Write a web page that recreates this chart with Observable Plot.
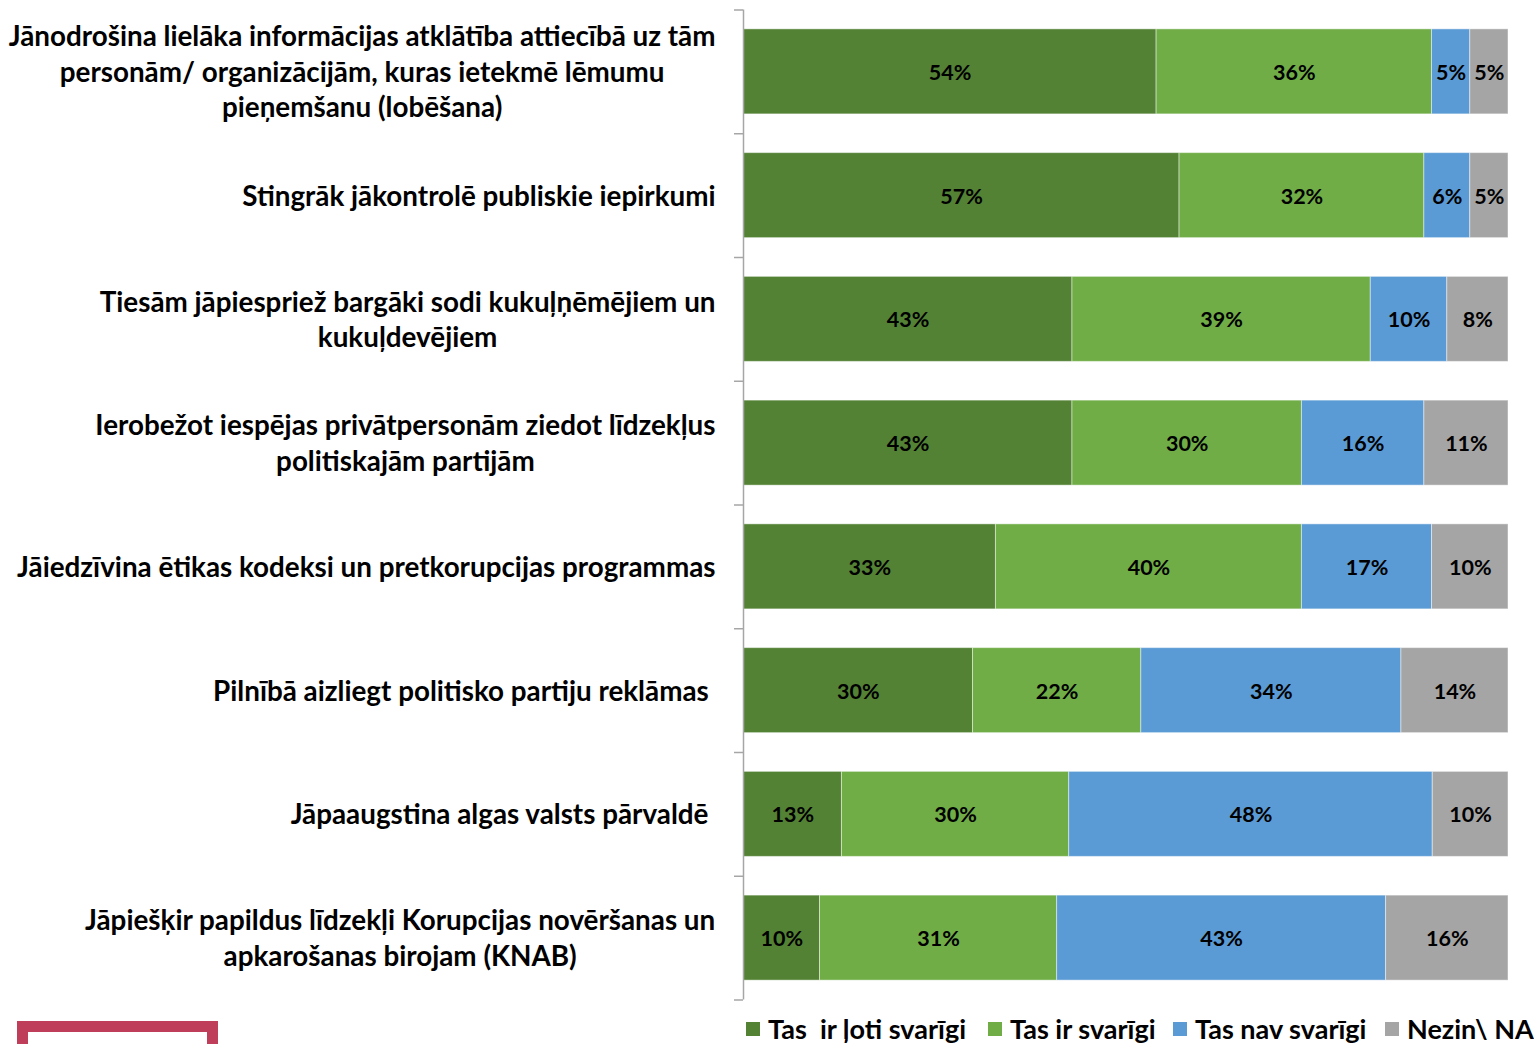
<!DOCTYPE html>
<html>
<head>
<meta charset="utf-8">
<script src="https://cdn.jsdelivr.net/npm/d3@7"></script>
<script src="https://cdn.jsdelivr.net/npm/@observablehq/plot@0.6"></script>
<style>
  html, body { margin: 0; padding: 0; background: #fff; overflow: hidden; }
  #wrap { position: relative; width: 1534px; height: 1044px; overflow: hidden; font-family: Lato, "Open Sans", sans-serif; }
  #chart svg { display: block; }
  #chart svg text { white-space: pre; }
  #bottom { position: relative; width: 1534px; height: 38px; overflow: hidden; }
  #logo { position: absolute; left: 17px; top: 15px; width: 201px; height: 60px; box-sizing: border-box; border: 11px solid #BF3F5B; background: #fff; }
  .item { position: absolute; top: 8px; display: flex; align-items: center; white-space: pre; font-weight: 700; font-size: 27px; color: #000; line-height: 30px; }
  .sw { width: 14px; height: 14px; margin-right: 8px; }
</style>
</head>
<body>
<div id="wrap">
  <div id="chart"></div>
  <div id="bottom"><div id="logo"></div></div>
</div>
<script>
// ---- Data ----
const categoryLines = [
  ["Jānodrošina lielāka informācijas atklātība attiecībā uz tām", "personām/ organizācijām, kuras ietekmē lēmumu", "pieņemšanu (lobēšana)"],
  ["Stingrāk jākontrolē publiskie iepirkumi"],
  ["Tiesām jāpiespriež bargāki sodi kukuļņēmējiem un", "kukuļdevējiem"],
  ["Ierobežot iespējas privātpersonām ziedot līdzekļus", "politiskajām partijām"],
  ["Jāiedzīvina ētikas kodeksi un pretkorupcijas programmas"],
  ["Pilnībā aizliegt politisko partiju reklāmas "],
  ["Jāpaaugstina algas valsts pārvaldē "],
  ["Jāpiešķir papildus līdzekļi Korupcijas novēršanas un", "apkarošanas birojam (KNAB)"]
];
const categories = categoryLines.map(l => l.join(" ").trim());
const seriesNames = ["Tas  ir ļoti svarīgi", "Tas ir svarīgi", "Tas nav svarīgi", "Nezin\\ NA"];
const seriesColors = ["#548235", "#70AD47", "#5B9BD5", "#A5A5A5"];
const veryImportant = [54, 57, 43, 43, 33, 30, 13, 10];
const important     = [36, 32, 39, 30, 40, 22, 30, 31];
const notImportant  = [5, 6, 10, 16, 17, 34, 48, 43];
const dontKnow      = [5, 5, 8, 11, 10, 14, 10, 16];
const seriesValues = [veryImportant, important, notImportant, dontKnow];

const rows = [];
categories.forEach((c, i) => seriesNames.forEach((s, j) => rows.push({cat: c, series: s, value: seriesValues[j][i]})));

// ---- Layout ----
const W = 1534, H = 1006, mt = 9.5, mb = 6.5, ml = 743, mr = 26;
const step = (H - mt - mb) / categories.length;
const labelFamily = "Lato, 'Open Sans', sans-serif";

const ctx = document.createElement("canvas").getContext("2d");
function measure(t, fs) { ctx.font = `bold ${fs}px ${labelFamily}`; return ctx.measureText(t).width; }
const labelFs = 26 * 707 / measure(categoryLines[0][0], 26);
const labelGap = 28;

const labelMarks = categoryLines.map((lines, i) => {
  const maxW = d3.max(lines, t => measure(t, labelFs));
  return Plot.text([categories[i]], {
    y: d => d, text: () => lines.join("\n"), frameAnchor: "left", textAnchor: "middle",
    lineAnchor: "middle", lineHeight: 35.5 / labelFs, dx: -(labelGap + maxW / 2), dy: -1.5,
    fontSize: labelFs, fontWeight: "bold", fill: "#000", fontFamily: labelFamily
  });
});

const chart = Plot.plot({
  width: W, height: H, marginTop: mt, marginBottom: mb, marginLeft: ml, marginRight: mr,
  style: {fontFamily: labelFamily, background: "#fff"},
  x: {axis: null},
  y: {domain: categories, paddingInner: 0.313, paddingOuter: 0.1565, round: false, axis: null},
  color: {domain: seriesNames, range: seriesColors},
  marks: [
    Plot.barX(rows, Plot.stackX({x: "value", y: "cat", fill: "series", order: seriesNames, offset: "normalize", stroke: "#fff", strokeOpacity: 0.45, strokeWidth: 1})),
    Plot.text(rows, Plot.stackX({x: "value", y: "cat", z: "series", order: seriesNames, offset: "normalize", text: d => d.value + "%", fontSize: 21.5, fontWeight: "bold", fill: "#000", dy: 1})),
    Plot.ruleX([0], {stroke: "#A6A6A6", strokeWidth: 1.5}),
    Plot.axisY({ticks: categories, tickSize: 9, dy: -step / 2, stroke: "#A6A6A6", strokeWidth: 1.5, fill: "none", label: null}),
    Plot.axisY({ticks: categories.slice(-1), tickSize: 9, dy: step / 2, stroke: "#A6A6A6", strokeWidth: 1.5, fill: "none", label: null}),
    ...labelMarks
  ]
});
document.getElementById("chart").appendChild(chart);

// ---- Legend ----
const legendLeft = [746, 988, 1173, 1385];
const bottom = document.getElementById("bottom");
seriesNames.forEach((s, i) => {
  const it = document.createElement("div"); it.className = "item"; it.style.left = legendLeft[i] + "px";
  const sw = document.createElement("div"); sw.className = "sw"; sw.style.background = seriesColors[i];
  const tx = document.createElement("span"); tx.textContent = s;
  it.appendChild(sw); it.appendChild(tx); bottom.appendChild(it);
});
</script>
</body>
</html>
